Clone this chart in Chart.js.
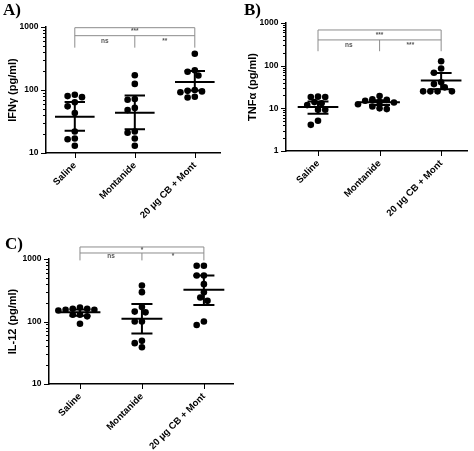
<!DOCTYPE html>
<html>
<head>
<meta charset="utf-8">
<script src="https://cdn.jsdelivr.net/npm/chart.js@4.4.0/dist/chart.umd.min.js"></script>
<style>
body { margin: 0; background: #fff; }
#wrap { position: relative; width: 474px; height: 451px; overflow: hidden; }
canvas { position: absolute; }
.lbl { position: absolute; font: bold 17px "Liberation Serif", serif; line-height: 17px; color: #000; }
</style>
</head>
<body>
<div id="wrap">
  <canvas id="chartA" width="237" height="225" style="left:0;top:0"></canvas>
  <canvas id="chartB" width="237" height="225" style="left:237px;top:0"></canvas>
  <canvas id="chartC" width="260" height="226" style="left:0;top:225px"></canvas>
  <div class="lbl" style="left:3px;top:1px">A)</div>
  <div class="lbl" style="left:244px;top:1px">B)</div>
  <div class="lbl" style="left:5px;top:235px">C)</div>
</div>
<script>
const groups = ['Saline', 'Montanide', '20 μg CB + Mont']

// IFN-gamma (pg/ml)
const ifn_saline = [84, 77, 80, 64, 55, 43, 22, 17, 16.5, 13]
const ifn_montanide = [171, 125, 72, 70, 52, 48, 22, 21, 17, 13]
const ifn_cb = [377, 205, 195, 170, 100, 97, 95, 92, 78, 76]
const ifn_mean = [37.7, 43.6, 134]
const ifn_hi = [64.5, 82, 200]
const ifn_lo = [22.6, 23.8, 98]
const ifn_sig = ['ns', '**', '***']

// TNF-alpha (pg/ml)
const tnf_saline = [18.4, 18.8, 18.4, 14, 13.2, 11.9, 9.3, 9.3, 5.1, 4.1]
const tnf_montanide = [19.4, 16.2, 15.8, 15, 14, 13.7, 12.5, 11, 10, 9.6]
const tnf_cb = [127, 86, 68, 41, 37, 31, 25, 25, 25, 25]
const tnf_mean = [10.7, 13.8, 45]
const tnf_hi = [14.5, 15.5, 67.6]
const tnf_lo = [7.5, 12, 28]
const tnf_sig = ['ns', '***', '***']

// IL-12 (pg/ml)
const il12_saline = [167, 160, 160, 154, 154, 150, 128, 128, 121, 92]
const il12_montanide = [377, 295, 170, 144, 140, 100, 100, 49, 45, 38.7]
const il12_cb = [781, 781, 545, 545, 396, 295, 242, 214, 100, 88]
const il12_mean = [140, 111, 321]
const il12_hi = [155, 191, 545]
const il12_lo = [124, 64, 183]
const il12_sig = ['ns', '*', '*']

const DOT = 3.3

function isPow10(v){
    const l = Math.log10(v)
    return Math.abs(l - Math.round(l)) < 1e-9
}

// mean line, CI whiskers, axis tick marks and significance brackets
const statsPlugin = {
    id: 'groupStats',
    afterDatasetsDraw(chart, args, o) {
        const ctx = chart.ctx
        const xs = chart.scales.x, ys = chart.scales.y
        const unit = xs.getPixelForValue(1) - xs.getPixelForValue(0)
        ctx.save()
        ctx.strokeStyle = '#000'
        ctx.lineWidth = 2
        for (let c = 0; c < 3; c++) {
            const cx = xs.getPixelForValue(c)
            const ym = ys.getPixelForValue(o.mean[c])
            const yh = ys.getPixelForValue(o.hi[c])
            const yl = ys.getPixelForValue(o.lo[c])
            ctx.beginPath()
            ctx.moveTo(cx - 0.33 * unit, ym); ctx.lineTo(cx + 0.33 * unit, ym)
            ctx.moveTo(cx, yh); ctx.lineTo(cx, yl)
            ctx.moveTo(cx - 0.17 * unit, yh); ctx.lineTo(cx + 0.17 * unit, yh)
            ctx.moveTo(cx - 0.17 * unit, yl); ctx.lineTo(cx + 0.17 * unit, yl)
            ctx.stroke()
        }
        // tick marks: log axis long at decades, short in between; x at groups
        ctx.lineWidth = 1
        ctx.beginPath()
        for (const t of ys.ticks) {
            const py = Math.round(ys.getPixelForValue(t.value)) + 0.5
            const len = isPow10(t.value) ? 5 : 3
            ctx.moveTo(ys.right - len, py); ctx.lineTo(ys.right, py)
        }
        for (const t of xs.ticks) {
            const px = Math.round(xs.getPixelForValue(t.value)) + 0.5
            ctx.moveTo(px, xs.top); ctx.lineTo(px, xs.top + 5)
        }
        ctx.stroke()
        // brackets
        const x0 = xs.getPixelForValue(0), x1 = xs.getPixelForValue(1), x2 = xs.getPixelForValue(2)
        const yT = ys.getPixelForValue(o.bracket[0])
        const yI = ys.getPixelForValue(o.bracket[1])
        const yF = ys.getPixelForValue(o.bracket[2])
        ctx.strokeStyle = '#8c8c8c'
        ctx.lineWidth = 1
        ctx.beginPath()
        ctx.moveTo(x0, yF); ctx.lineTo(x0, yT); ctx.lineTo(x2, yT); ctx.lineTo(x2, yF)
        ctx.moveTo(x0, yI); ctx.lineTo(x2, yI)
        ctx.moveTo(x1, yI); ctx.lineTo(x1, yF)
        ctx.stroke()
        ctx.fillStyle = '#555'
        ctx.font = 'bold 6.5px "Liberation Sans", Arial, sans-serif'
        ctx.textAlign = 'center'
        ctx.textBaseline = 'middle'
        ctx.fillText(o.sig[2], x1, (yT + yI) / 2)
        ctx.fillText(o.sig[0], (x0 + x1) / 2, (yI + yF) / 2)
        ctx.fillText(o.sig[1], (x1 + x2) / 2, (yI + yF) / 2)
        ctx.restore()
    }
}

// spread points sideways so they don't overlap (scatter-dot style)
function swarm(chart, vals, cat){
    const xs = chart.scales.x, ys = chart.scales.y
    const unit = xs.getPixelForValue(1) - xs.getPixelForValue(0)
    const placed = []
    const out = []
    const order = vals.map((v, i) => i).sort((a, b) => vals[b] - vals[a])
    for (const i of order) {
        const py = ys.getPixelForValue(vals[i])
        let off = 0
        for (let n = 0; n < 40; n++) {
            off = (n === 0 ? 0 : (n % 2 ? -1 : 1) * Math.ceil(n / 2)) * (DOT + 0.3)
            if (placed.every(p => Math.hypot(p.x - off, p.y - py) >= 1.8 * DOT)) break
        }
        placed.push({x: off, y: py})
        out.push({x: cat + off / unit, y: vals[i]})
    }
    return out
}

function makeChart(id, series, stats, cfg){
    const chart = new Chart(document.getElementById(id), {
        type: 'scatter',
        data: {
            datasets: [{
                data: [],
                pointRadius: DOT,
                pointHoverRadius: DOT,
                backgroundColor: '#000',
                borderWidth: 0
            }]
        },
        plugins: [statsPlugin],
        options: {
            responsive: false,
            animation: false,
            events: [],
            layout: { padding: { left: 0, top: cfg.padTop, right: cfg.padRight, bottom: 0 } },
            plugins: {
                legend: { display: false },
                tooltip: { enabled: false },
                groupStats: stats
            },
            scales: {
                x: {
                    type: 'linear',
                    min: cfg.xMin,
                    max: cfg.xMax,
                    afterBuildTicks: s => { s.ticks = groups.map((g, i) => ({value: i})) },
                    afterFit: s => { s.height = cfg.xHeight },
                    ticks: {
                        autoSkip: false,
                        minRotation: 45,
                        maxRotation: 45,
                        padding: 3,
                        color: '#000',
                        font: { family: '"Liberation Sans", Arial, sans-serif', size: 9.5, weight: 'bold' },
                        callback: v => groups[v]
                    },
                    grid: { display: false, drawTicks: true, tickLength: 4 },
                    border: { color: '#000', width: 1.5 }
                },
                y: {
                    type: 'logarithmic',
                    min: cfg.yMin,
                    max: cfg.yMax,
                    afterBuildTicks: s => {
                        const t = []
                        for (let e = Math.round(Math.log10(cfg.yMin)); e < Math.round(Math.log10(cfg.yMax)); e++) {
                            for (let k = 1; k < 10; k++) t.push({value: k * Math.pow(10, e)})
                        }
                        t.push({value: cfg.yMax})
                        s.ticks = t
                    },
                    afterFit: s => { s.width = cfg.yWidth },
                    ticks: {
                        autoSkip: false,
                        source: 'data',
                        padding: 3.5,
                        color: '#000',
                        font: { family: '"Liberation Sans", Arial, sans-serif', size: 8.5, weight: 'bold' },
                        callback: v => isPow10(v) ? String(Math.round(v)) : ''
                    },
                    grid: { display: false, drawTicks: true, tickLength: 4 },
                    border: { color: '#000', width: 1.5 },
                    title: {
                        display: true,
                        text: cfg.title,
                        color: '#000',
                        padding: { top: cfg.titlePad, bottom: 0 },
                        font: { family: '"Liberation Sans", Arial, sans-serif', size: 11, weight: 'bold' }
                    }
                }
            }
        }
    })
    chart.data.datasets[0].data = [].concat(...series.map((v, c) => swarm(chart, v, c)))
    chart.update('none')
    return chart
}

makeChart('chartA', [ifn_saline, ifn_montanide, ifn_cb],
    { mean: ifn_mean, hi: ifn_hi, lo: ifn_lo, sig: ifn_sig, bracket: [975, 728, 470] },
    { title: 'IFNγ (pg/ml)', yMin: 10, yMax: 1000, padTop: 27, padRight: 17, yWidth: 46, xHeight: 72, xMin: -0.48, xMax: 2.42, titlePad: 6.4 })

makeChart('chartB', [tnf_saline, tnf_montanide, tnf_cb],
    { mean: tnf_mean, hi: tnf_hi, lo: tnf_lo, sig: tnf_sig, bracket: [686, 401, 218] },
    { title: 'TNFα (pg/ml)', yMin: 1, yMax: 1000, padTop: 23, padRight: 7, yWidth: 49, xHeight: 74, xMin: -0.52, xMax: 2.42, titlePad: 9.4 })

makeChart('chartC', [il12_saline, il12_montanide, il12_cb],
    { mean: il12_mean, hi: il12_hi, lo: il12_lo, sig: il12_sig, bracket: [1557, 1248, 950] },
    { title: 'IL-12 (pg/ml)', yMin: 10, yMax: 1000, padTop: 34, padRight: 27, yWidth: 49, xHeight: 67, xMin: -0.5, xMax: 2.47, titlePad: 6.7 })
</script>
</body>
</html>
